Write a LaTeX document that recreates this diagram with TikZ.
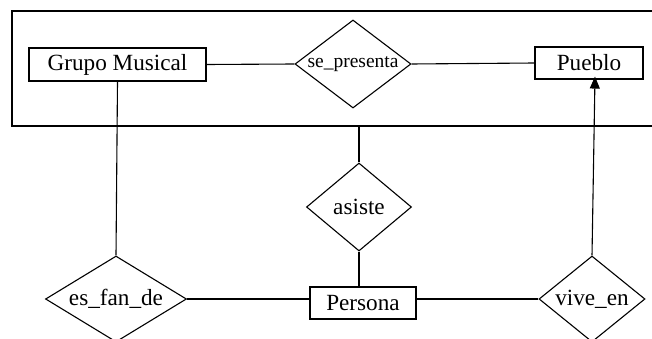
\documentclass[tikz,border=0pt]{standalone}
\usepackage{fontspec}
\setmainfont{Liberation Serif}
\usetikzlibrary{shapes.geometric,arrows.meta}
\tikzset{
  ent/.style={draw, line width=1.1pt, rectangle, inner sep=0pt, fill=white,
    font=\fontsize{23.2}{28}\selectfont},
  rel/.style={draw, line width=1.1pt, diamond, inner sep=0pt, fill=white,
    font=\fontsize{23.2}{28}\selectfont},
  con/.style={line width=1.1pt},
  frame/.style={draw, line width=1.8pt, rectangle, inner sep=0pt}
}
\begin{document}
\begin{tikzpicture}[x=1pt,y=-1pt]
\useasboundingbox (0,0) rectangle (652,339);
\clip (0,0) rectangle (652,339);
\fill[white] (0,0) rectangle (652,339);
\node[frame, minimum width=652pt, minimum height=115pt] (agg) at (338,68.5) {};
\node[ent, minimum width=177pt, minimum height=33pt] (grupo) at (117.5,64.5) {Grupo Musical};
\node[rel, aspect=1.32, minimum width=116pt, minimum height=88pt, font=\fontsize{19.5}{24}\selectfont] (se) at (353,64) {se\_presenta};
\node[ent, minimum width=108pt, minimum height=32pt] (pueblo) at (589,63) {Pueblo};
\node[rel, aspect=1.19, minimum width=105pt, minimum height=88pt] (asiste) at (359,207) {asiste};
\node[rel, aspect=1.64, minimum width=141pt, minimum height=86pt] (fan) at (116,299) {es\_fan\_de};
\node[ent, minimum width=106pt, minimum height=32pt] (persona) at (363,303) {Persona};
\node[rel, aspect=1.23, minimum width=106pt, minimum height=86pt] (vive) at (592,299) {vive\_en};
\draw[con] (grupo.east) -- (se.west);
\draw[con] (se.east) -- (pueblo.west);
\draw[con] (grupo.south) -- (fan.north);
\draw[con] (asiste.north) -- (asiste.north |- agg.south);
\draw[con] (asiste.south) -- (asiste.south |- persona.north);
\draw[con] (fan.east) -- (fan.east -| persona.west);
\draw[con] (vive.west) -- (vive.west -| persona.east);
\draw[con, -{Triangle[length=12pt,width=10pt]}] (vive.north) -- ([xshift=6pt,yshift=3pt]pueblo.south);
\end{tikzpicture}
\end{document}
